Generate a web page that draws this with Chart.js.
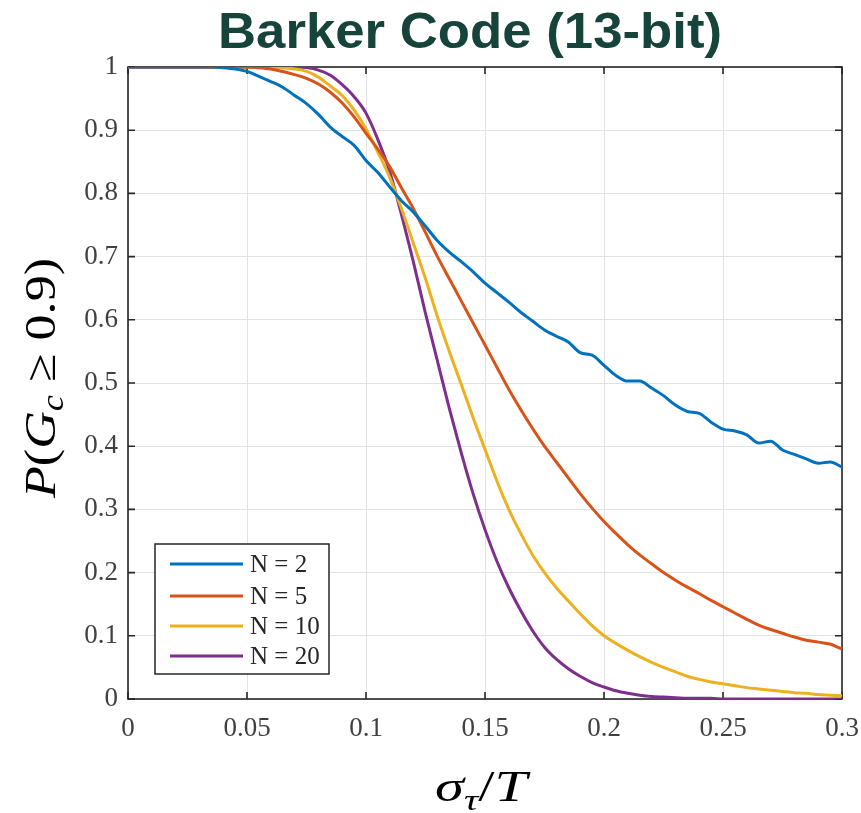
<!DOCTYPE html>
<html>
<head>
<meta charset="utf-8">
<title>Barker Code (13-bit)</title>
<script src="https://cdn.jsdelivr.net/npm/chart.js@4.4.1/dist/chart.umd.min.js"></script>
<style>
	html, body { margin: 0; padding: 0; background: #fff; }
	#graficoBarker { display: block; }
</style>
</head>
<body>
<canvas id="graficoBarker" width="861" height="813"></canvas>
<script>
// sigma_tau / T
var sigma = [
	0, 0.005, 0.01, 0.015, 0.02, 0.025, 0.03, 0.035, 0.04, 0.045,
	0.05, 0.055, 0.06, 0.065, 0.07, 0.075, 0.08, 0.085, 0.09, 0.095,
	0.1, 0.105, 0.11, 0.115, 0.12, 0.125, 0.13, 0.135, 0.14, 0.145,
	0.15, 0.155, 0.16, 0.165, 0.17, 0.175, 0.18, 0.185, 0.19, 0.195,
	0.2, 0.205, 0.21, 0.215, 0.22, 0.225, 0.23, 0.235, 0.24, 0.245,
	0.25, 0.255, 0.26, 0.265, 0.27, 0.275, 0.28, 0.285, 0.29, 0.295,
	0.3
];

// P(Gc >= 0.9) para cada N
var probN2 = [
	1, 1, 1, 1, 1, 1, 1, 1, 0.999, 0.997,
	0.993, 0.985, 0.977, 0.968, 0.955, 0.942, 0.925, 0.905, 0.89, 0.876,
	0.852, 0.833, 0.81, 0.788, 0.77, 0.748, 0.725, 0.707, 0.692, 0.676,
	0.658, 0.643, 0.628, 0.612, 0.598, 0.584, 0.574, 0.565, 0.548, 0.544,
	0.528, 0.512, 0.503, 0.503, 0.492, 0.48, 0.465, 0.455, 0.452, 0.438,
	0.427, 0.424, 0.418, 0.405, 0.408, 0.394, 0.387, 0.38, 0.373, 0.375,
	0.367
];
var probN5 = [
	1, 1, 1, 1, 1, 1, 1, 1, 1, 1,
	1, 0.999, 0.997, 0.993, 0.988, 0.982, 0.973, 0.96, 0.943, 0.921,
	0.895, 0.87, 0.842, 0.808, 0.775, 0.738, 0.7, 0.665, 0.63, 0.595,
	0.56, 0.525, 0.49, 0.458, 0.428, 0.4, 0.375, 0.35, 0.325, 0.302,
	0.281, 0.262, 0.244, 0.228, 0.214, 0.2, 0.188, 0.177, 0.167, 0.156,
	0.146, 0.136, 0.126, 0.117, 0.11, 0.104, 0.098, 0.093, 0.09, 0.087,
	0.079
];
var probN10 = [
	1, 1, 1, 1, 1, 1, 1, 1, 1, 1,
	1, 1, 1, 0.999, 0.997, 0.993, 0.984, 0.97, 0.955, 0.932,
	0.902, 0.865, 0.825, 0.775, 0.72, 0.665, 0.605, 0.55, 0.498, 0.445,
	0.395, 0.345, 0.3, 0.262, 0.228, 0.2, 0.176, 0.155, 0.135, 0.116,
	0.1, 0.088, 0.077, 0.067, 0.058, 0.05, 0.043, 0.036, 0.031, 0.027,
	0.024, 0.021, 0.018, 0.016, 0.014, 0.012, 0.01, 0.009, 0.007, 0.006,
	0.005
];
var probN20 = [
	1, 1, 1, 1, 1, 1, 1, 1, 1, 1,
	1, 1, 1, 1, 1, 0.999, 0.995, 0.987, 0.972, 0.953,
	0.927, 0.885, 0.834, 0.765, 0.69, 0.61, 0.535, 0.46, 0.39, 0.325,
	0.268, 0.218, 0.176, 0.14, 0.108, 0.082, 0.063, 0.048, 0.036, 0.026,
	0.019, 0.013, 0.009, 0.006, 0.004, 0.003, 0.002, 0.001, 0.001, 0.001,
	0, 0, 0, 0, 0, 0, 0, 0, 0, 0,
	0
];

var rotulos = ['N = 2', 'N = 5', 'N = 10', 'N = 20'];
var cores = ['#0072BD', '#D95319', '#EDB120', '#7E2F8E'];

var ticksX = [0, 0.05, 0.1, 0.15, 0.2, 0.25, 0.3];
var ticksY = [0, 0.1, 0.2, 0.3, 0.4, 0.5, 0.6, 0.7, 0.8, 0.9, 1];

var SERIF = '"Liberation Serif", "Times New Roman", serif';

function pontos(valores) {
	return valores.map(function(v, i) {
		return { x: sigma[i], y: v };
	});
}

// escreve um texto em partes (subscritos etc.) esticado para a largura dada
function escreveTexto(ctx, partes, cx, cy, largura, angulo) {
	var total = 0;
	partes.forEach(function(p) {
		ctx.font = p.font;
		p.w = ctx.measureText(p.t).width;
		total += p.w;
	});
	ctx.save();
	ctx.translate(cx, cy);
	ctx.rotate(angulo || 0);
	ctx.scale(largura / total, 1);
	ctx.textBaseline = 'alphabetic';
	ctx.textAlign = 'left';
	var x = -total / 2;
	partes.forEach(function(p) {
		ctx.font = p.font;
		ctx.fillText(p.t, x, p.dy || 0);
		x += p.w;
	});
	ctx.restore();
}

var moldura = {
	id: 'moldura',
	beforeDatasetsDraw: function(chart) {
		var ctx = chart.ctx;
		var a = chart.chartArea;
		var sx = chart.scales.x;
		var sy = chart.scales.y;
		ctx.save();
		ctx.strokeStyle = '#262626';
		ctx.lineWidth = 1.6;
		ctx.strokeRect(a.left, a.top, a.right - a.left, a.bottom - a.top);
		ctx.beginPath();
		ticksX.forEach(function(v) {
			var px = sx.getPixelForValue(v);
			ctx.moveTo(px, a.bottom); ctx.lineTo(px, a.bottom - 7);
			ctx.moveTo(px, a.top); ctx.lineTo(px, a.top + 7);
		});
		ticksY.forEach(function(v) {
			var py = sy.getPixelForValue(v);
			ctx.moveTo(a.left, py); ctx.lineTo(a.left + 7, py);
			ctx.moveTo(a.right, py); ctx.lineTo(a.right - 7, py);
		});
		ctx.stroke();
		ctx.restore();
	}
};

var legenda = {
	id: 'legenda',
	afterDatasetsDraw: function(chart) {
		var ctx = chart.ctx;
		var bx = 155, by = 544, bw = 174, bh = 130;
		ctx.save();
		ctx.fillStyle = '#fff';
		ctx.fillRect(bx, by, bw, bh);
		ctx.strokeStyle = '#262626';
		ctx.lineWidth = 1.5;
		ctx.strokeRect(bx, by, bw, bh);
		var linhas = [564, 596, 626, 656];
		chart.data.datasets.forEach(function(ds, i) {
			ctx.strokeStyle = ds.borderColor;
			ctx.lineWidth = 3;
			ctx.beginPath();
			ctx.moveTo(170, linhas[i]);
			ctx.lineTo(243, linhas[i]);
			ctx.stroke();
			ctx.fillStyle = '#262626';
			ctx.font = '25px ' + SERIF;
			ctx.textBaseline = 'middle';
			ctx.fillText(ds.label, 250, linhas[i] + 1);
		});
		ctx.restore();
	}
};

var titulos = {
	id: 'titulos',
	afterDraw: function(chart) {
		var ctx = chart.ctx;
		ctx.save();
		ctx.fillStyle = '#17443a';
		escreveTexto(ctx, [{ t: 'Barker Code (13-bit)', font: 'bold 50px "Liberation Sans", Arial, sans-serif' }], 470, 48, 504);

		ctx.fillStyle = '#000';
		escreveTexto(ctx, [
			{ t: 'P', font: 'italic 44px ' + SERIF },
			{ t: '(', font: '44px ' + SERIF },
			{ t: 'G', font: 'italic 44px ' + SERIF },
			{ t: 'c', font: 'italic 31px ' + SERIF, dy: 8 },
			{ t: ' \u2265 0.9)', font: '44px ' + SERIF }
		], 55, 378, 240, -Math.PI / 2);

		escreveTexto(ctx, [
			{ t: '\u03C3', font: 'italic 44px ' + SERIF },
			{ t: '\u03C4', font: 'italic 30px ' + SERIF, dy: 9 },
			{ t: '/', font: '44px ' + SERIF },
			{ t: 'T', font: 'italic 44px ' + SERIF }
		], 481, 801, 92);
		ctx.restore();
	}
};

var datasets = [probN2, probN5, probN10, probN20].map(function(valores, i) {
	return {
		label: rotulos[i],
		data: pontos(valores),
		borderColor: cores[i],
		backgroundColor: cores[i],
		borderWidth: 3,
		pointRadius: 0,
		fill: false,
		cubicInterpolationMode: 'monotone'
	};
});

var grafico = new Chart(document.getElementById('graficoBarker').getContext('2d'), {
	type: 'line',
	data: { datasets: datasets },
	options: {
		responsive: false,
		animation: false,
		devicePixelRatio: 1,
		layout: { padding: { top: 67, right: 19, left: 0, bottom: 0 } },
		plugins: {
			legend: { display: false },
			title: { display: false },
			tooltip: { enabled: false }
		},
		scales: {
			x: {
				type: 'linear',
				min: 0,
				max: 0.3,
				afterFit: function(s) {
					s.height = 114;
					s.paddingLeft = 0;
					s.paddingRight = 0;
				},
				afterBuildTicks: function(s) {
					s.ticks = ticksX.map(function(v) { return { value: v }; });
				},
				ticks: {
					padding: 14,
					color: '#404040',
					font: { family: SERIF, size: 27 },
					maxRotation: 0,
					callback: function(v) { return String(+v.toFixed(2)); }
				},
				grid: { color: '#e2e2e2', lineWidth: 1, drawTicks: false },
				border: { display: false }
			},
			y: {
				type: 'linear',
				min: 0,
				max: 1,
				afterFit: function(s) {
					s.width = 128;
					s.paddingTop = 0;
					s.paddingBottom = 0;
				},
				afterBuildTicks: function(s) {
					s.ticks = ticksY.map(function(v) { return { value: v }; });
				},
				ticks: {
					padding: 10,
					color: '#404040',
					font: { family: SERIF, size: 27 },
					callback: function(v) { return String(+v.toFixed(1)); }
				},
				grid: { color: '#e2e2e2', lineWidth: 1, drawTicks: false },
				border: { display: false }
			}
		}
	},
	plugins: [moldura, legenda, titulos]
});
</script>
</body>
</html>
